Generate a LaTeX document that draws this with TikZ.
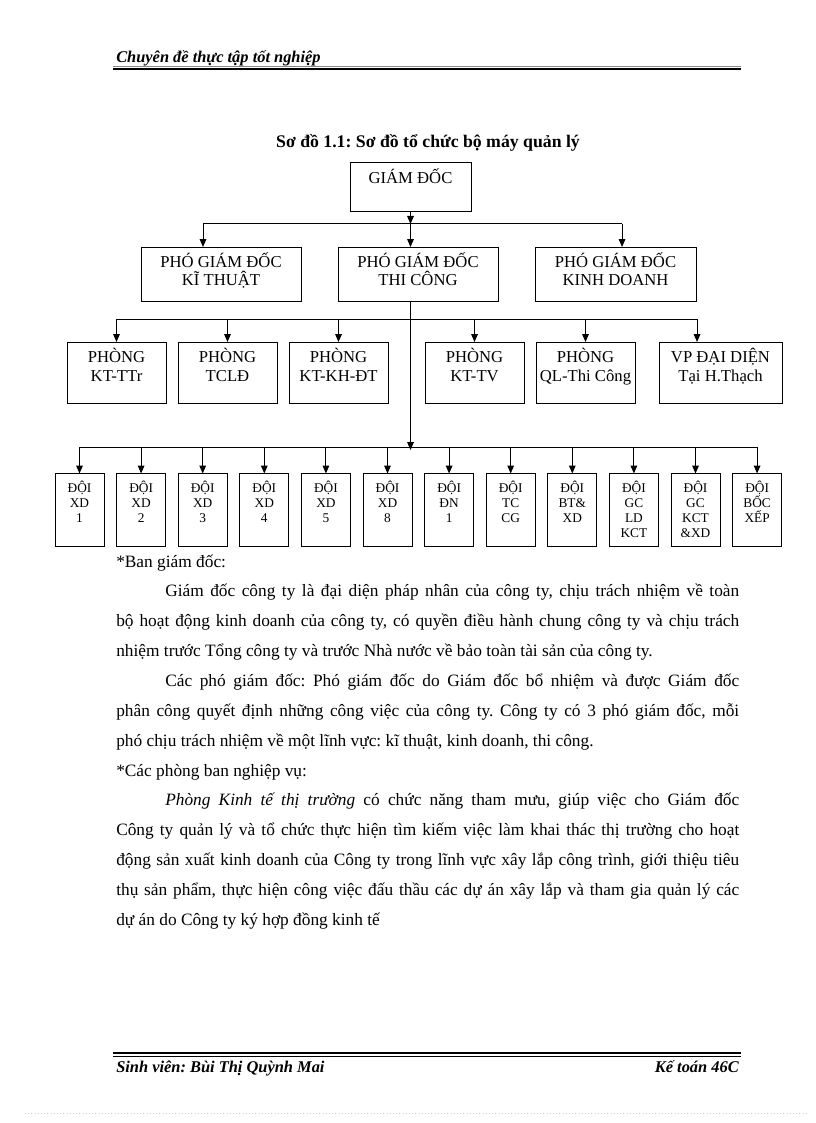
\documentclass[tikz,border=0pt]{standalone}
\usepackage{fontspec}
\setmainfont{Liberation Serif}
\usetikzlibrary{arrows.meta,positioning}
\definecolor{rulegray}{HTML}{8A8A8A}
\definecolor{pageedge}{HTML}{D0D0D0}
\newlength{\px}\setlength{\px}{0.75pt}
\frenchspacing
% fixed-size cell, text hung from the top: width, height, first baseline (px), lines
\newcommand{\cell}[4]{\parbox[c][#2\px][t]{#1\px}{\centering\rule{0pt}{#3\px}#4}}
\tikzset{
  box/.style={draw,line width=0.75pt,inner sep=0pt,outer sep=0pt},
  big/.style={box,font=\fontsize{12.5}{13.5}\selectfont},
  dept/.style={box,font=\fontsize{12.5}{14.25}\selectfont},
  team/.style={box,font=\fontsize{10}{11.25}\selectfont},
  ar/.style={-{Triangle[length=6pt,width=5pt]},line width=0.75pt},
  bus/.style={line width=0.75pt},
  pagetext/.style={inner sep=0pt,font=\fontsize{12.3}{15}\selectfont\bfseries\itshape},
}

\begin{document}
\begin{tikzpicture}[x=0.75pt,y=-0.75pt]
\useasboundingbox (0,0) rectangle (816,1123);

% page head
\node[pagetext,anchor=base west] (head) at (116,63) {Chuyên đề thực tập tốt nghiệp};
\draw[rulegray,line width=0.4pt] (113,66.5) -- (741,66.5);
\draw[line width=1.5pt] (113,69.5) -- (741,69.5);

\node[anchor=base,inner sep=0pt,font=\fontsize{13.3}{15}\selectfont\bfseries] (title) at (428,148) {Sơ đồ 1.1: Sơ đồ tổ chức bộ máy quản lý};

% directors
\node[big] (gd) at (410.5,187.5) {\cell{121}{49}{20.5}{GIÁM ĐỐC}};
\node[big] (pkt) at (221,274) {\cell{160}{54}{20.5}{PHÓ GIÁM ĐỐC\\KĨ THUẬT}};
\node[big,right=27.75pt of pkt] (ptc) {\cell{160}{54}{20.5}{PHÓ GIÁM ĐỐC\\THI CÔNG}};
\node[big,right=27.75pt of ptc] (pkd) {\cell{161}{54}{20.5}{PHÓ GIÁM ĐỐC\\KINH DOANH}};

% departments
\node[dept] (p1) at (116.5,372.5) {\cell{99}{61}{20}{PHÒNG\\KT-TTr}};
\node[dept,right=9pt of p1] (p2) {\cell{99}{61}{20}{PHÒNG\\TCLĐ}};
\node[dept,right=9pt of p2] (p3) {\cell{99}{61}{20}{PHÒNG\\KT-KH-ĐT}};
\node[dept,right=27.75pt of p3] (p4) {\cell{99}{61}{20}{PHÒNG\\KT-TV}};
\node[dept,right=9pt of p4] (p5) {\cell{99}{61}{20}{PHÒNG\\QL-Thi Công}};
\node[dept,right=18pt of p5] (p6) {\cell{123}{61}{20}{VP ĐẠI DIỆN\\Tại H.Thạch}};

% teams
\foreach \t [count=\i] in {{ĐỘI\\XD\\1},{ĐỘI\\XD\\2},{ĐỘI\\XD\\3},{ĐỘI\\XD\\4},
    {ĐỘI\\XD\\5},{ĐỘI\\XD\\8},{ĐỘI\\ĐN\\1},{ĐỘI\\TC\\CG},{ĐỘI\\BT\&\\XD},
    {ĐỘI\\GC\\LD\\KCT},{ĐỘI\\GC\\KCT\\\&XD},{ĐỘI\\BỐC\\XẾP}}
  \node[team] (d\i) at ({79.5+61.6*(\i-1)},510) {\cell{49}{73}{19}{\t}};

% connectors
\coordinate (busA) at (410.5,224);
\coordinate (busB) at (410.5,319);
\coordinate (busC) at (410.5,447);
\coordinate (kt-in) at ([xshift=-13.5pt]pkt.north);
\coordinate (kd-in) at ([xshift=4.9pt]pkd.north);
\coordinate (vp-in) at ([xshift=-17.6pt]p6.north);

\draw[ar] (gd.south) -- (busA);
\draw[bus] (kt-in |- busA) -- (kd-in |- busA);
\draw[ar] (kt-in |- busA) -- (kt-in);
\draw[ar] (busA) -- (busA |- ptc.north);
\draw[ar] (kd-in |- busA) -- (kd-in);

\draw[ar] (busA |- ptc.south) -- ([yshift=-2.25pt]busC);

\draw[bus] (p1.north |- busB) -- (vp-in |- busB);
\foreach \n in {p1,p2,p3,p4,p5}
  \draw[ar] (\n.north |- busB) -- (\n.north);
\draw[ar] (vp-in |- busB) -- (vp-in);

\draw[bus] (d1.north |- busC) -- (d12.north |- busC);
\foreach \i in {1,...,12}
  \draw[ar] (d\i.north |- busC) -- (d\i.north);

% text below the chart
\node[anchor=base west,inner sep=0pt,text width=467.25pt,align=justify,
      font=\fontsize{13}{22.4}\selectfont] (body) at (116,567) {%
\setlength{\parindent}{36.75pt}\hyphenpenalty=10000
\noindent*Ban giám đốc:\par
Giám đốc công ty là đại diện pháp nhân của công ty, chịu trách nhiệm về toàn\linebreak
bộ hoạt động kinh doanh của công ty, có quyền điều hành chung công ty và chịu trách\linebreak
nhiệm trước Tổng công ty và trước Nhà nước về bảo toàn tài sản của công ty.\par
Các phó giám đốc: Phó giám đốc do Giám đốc bổ nhiệm và được Giám đốc\linebreak
phân công quyết định những công việc của công ty. Công ty có 3 phó giám đốc, mỗi\linebreak
phó chịu trách nhiệm về một lĩnh vực: kĩ thuật, kinh doanh, thi công.\par
\noindent*Các phòng ban nghiệp vụ:\par
\textit{Phòng Kinh tế thị trường} có chức năng tham mưu, giúp việc cho Giám đốc\linebreak
Công ty quản lý và tổ chức thực hiện tìm kiếm việc làm khai thác thị trường cho hoạt\linebreak
động sản xuất kinh doanh của Công ty trong lĩnh vực xây lắp công trình, giới thiệu tiêu\linebreak
thụ sản phẩm, thực hiện công việc đấu thầu các dự án xây lắp và tham gia quản lý các\linebreak
dự án do Công ty ký hợp đồng kinh tế\par};

% page foot
\draw[line width=1.5pt] (113,1053) -- (741,1053);
\draw[line width=0.6pt] (113,1056.5) -- (741,1056.5);
\node[pagetext,anchor=base west] (student) at (116,1072) {Sinh viên: Bùi Thị Quỳnh Mai};
\node[pagetext,anchor=base east] (class) at (739,1072) {Kế toán 46C};
\draw[pageedge,dotted] (25,1113) -- (808,1113);
\end{tikzpicture}
\end{document}
